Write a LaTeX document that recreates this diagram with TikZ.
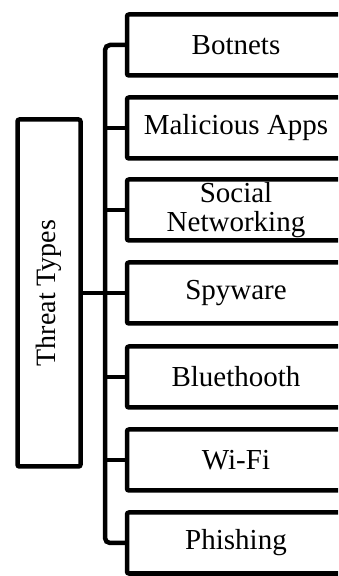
\documentclass[tikz,border=0pt]{standalone}
\usepackage{fontspec}
\setmainfont{Liberation Serif}
\begin{document}
\begin{tikzpicture}[x=1pt,y=1pt,
  thick line/.style={line width=4.5pt},
  leaf/.style={draw,thick line,rounded corners=2pt,minimum width=218pt,minimum height=61pt,
    inner sep=0pt,outer sep=0pt,align=center,font=\fontsize{29}{29}\selectfont},
  rootbox/.style={draw,thick line,rounded corners=2pt,minimum width=63pt,minimum height=347pt,
    inner sep=0pt,outer sep=0pt},
  link/.style={thick line,line cap=butt}]
\useasboundingbox (0,0) rectangle (338,576);
\clip (0,0) rectangle (338,576);
\fill[white] (0,0) rectangle (338,576);
\node[leaf] (b1) at (236,531) {Botnets};
\node[leaf] (b2) at (236,448) {Malicious Apps};
\node[leaf] (b3) at (236,366) {Social\\Networking};
\node[leaf] (b4) at (236,283) {Spyware};
\node[leaf] (b5) at (236,199) {Bluethooth};
\node[leaf] (b6) at (236,116) {Wi-Fi};
\node[leaf] (b7) at (236,33) {Phishing};
\node[rootbox] (tt) at (49,283) {};
\node[rotate=90,font=\fontsize{28}{30}\selectfont] (ttl) at (tt.center) {Threat Types};
\draw[link,rounded corners=5pt] (b1.west) -- ++(-22,0) |- (b7.west);
\foreach \i in {2,...,6} {\draw[link] (b\i.west) -- ++(-22,0);}
\draw[link] (tt.east) -- (b4.west);
\end{tikzpicture}
\end{document}
